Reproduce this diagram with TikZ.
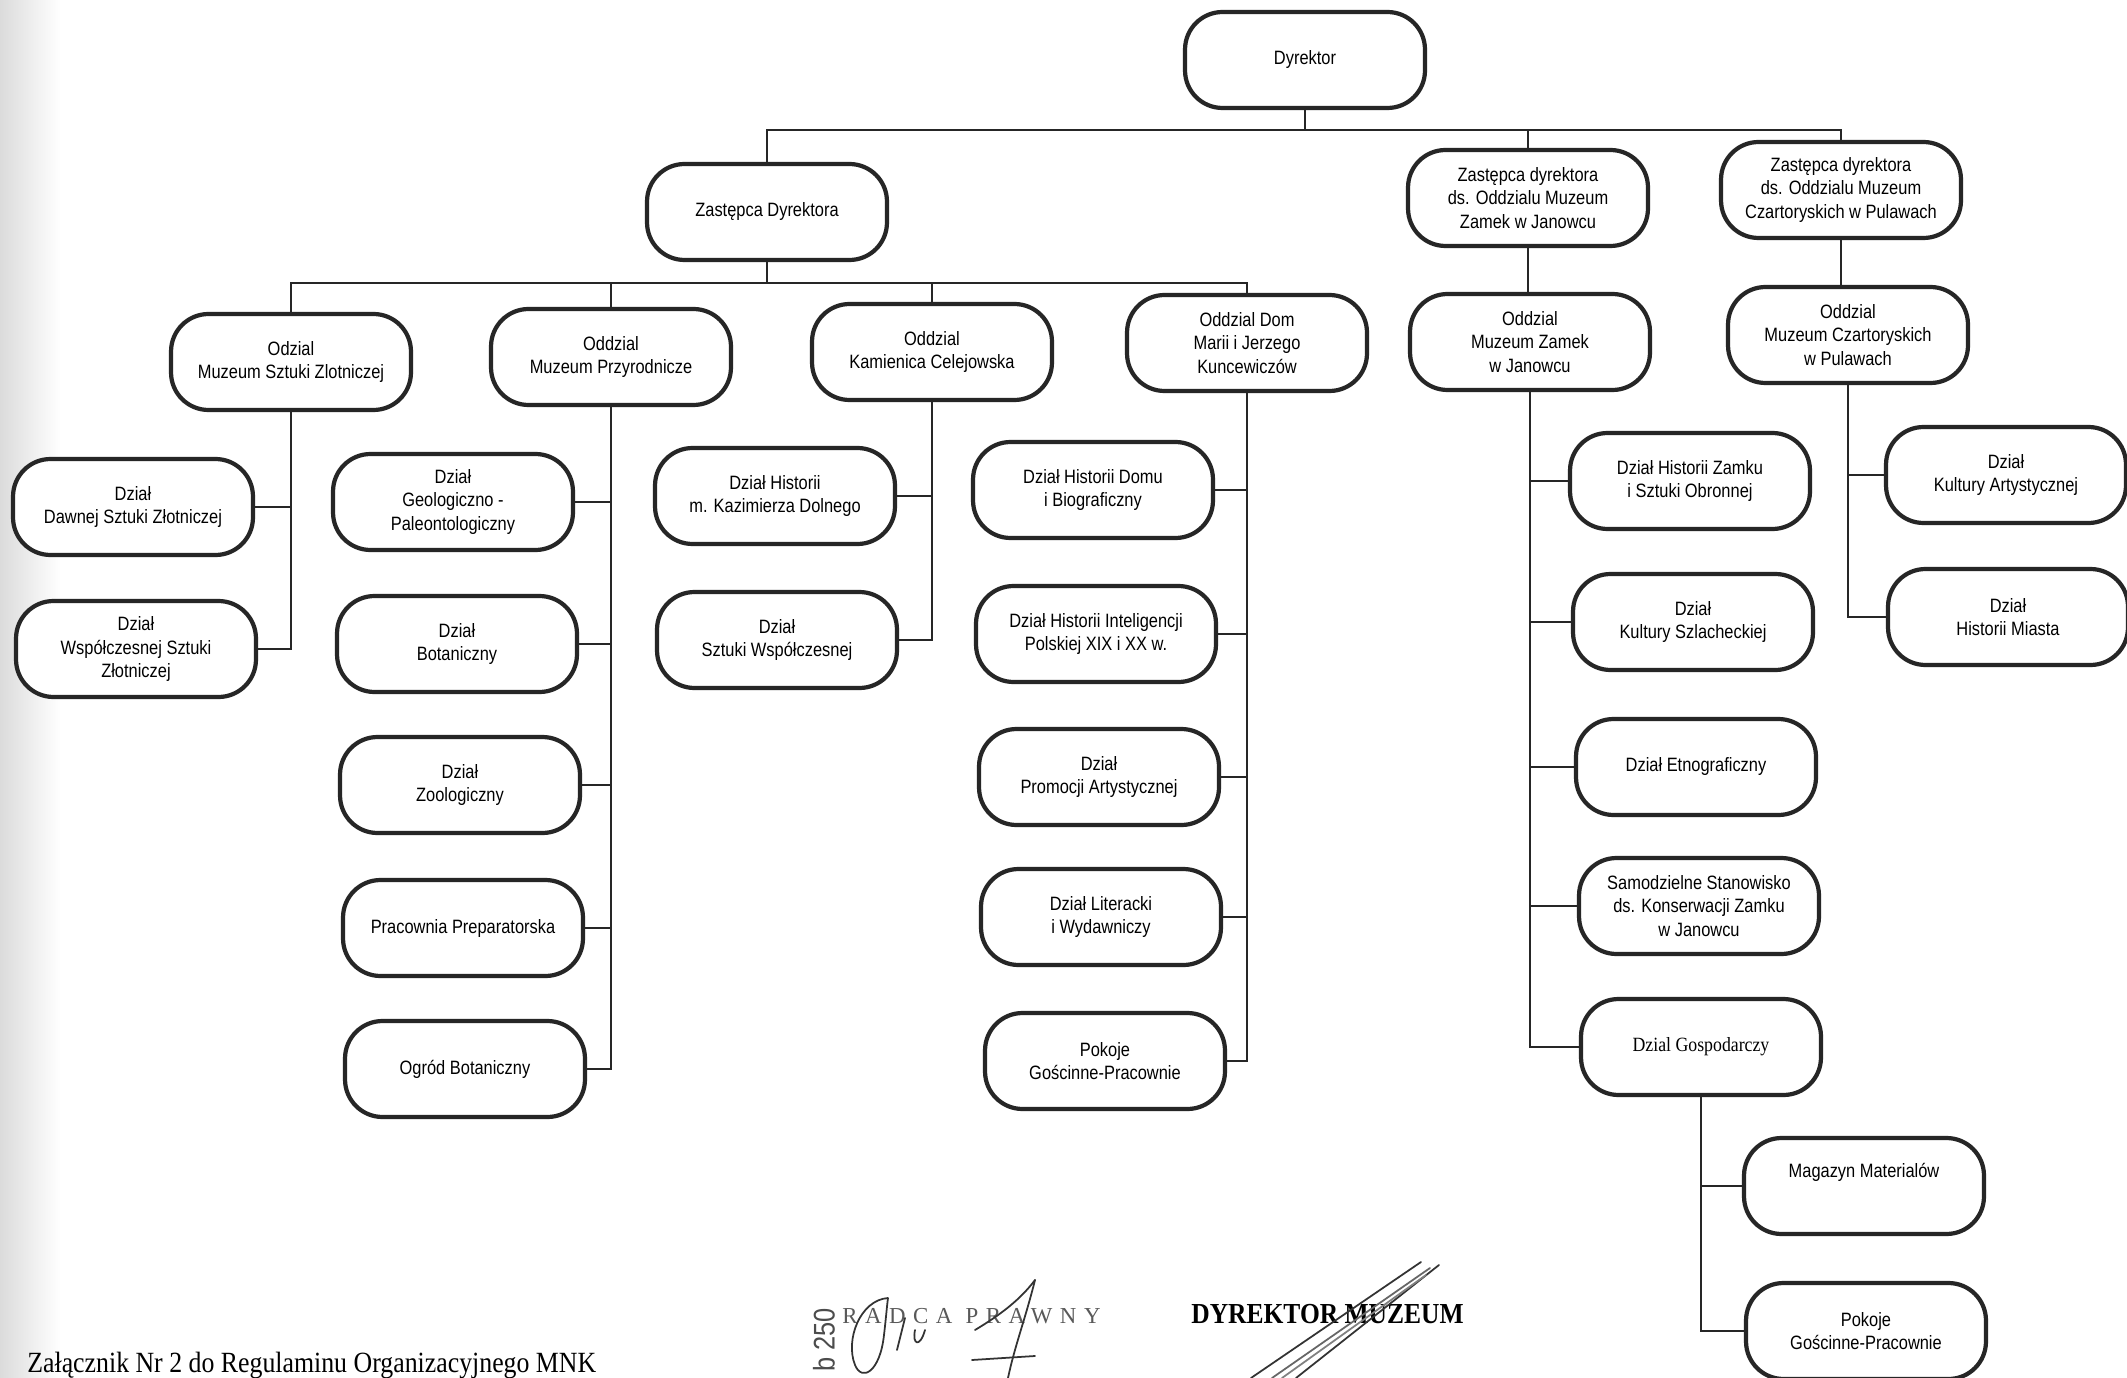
\documentclass[tikz,border=0pt]{standalone}
\usepackage{fontspec}
\newfontfamily\arialf[FakeStretch=0.85]{Liberation Sans}
\newfontfamily\timesf[FakeStretch=0.88]{Liberation Serif}
\newfontfamily\spacedf[LetterSpace=33]{Liberation Serif}
\begin{document}
\begin{tikzpicture}[x=0.02cm,y=-0.02cm,
  box/.style={draw=black!85, line width=2.4pt, rounded corners=0.75cm,
    minimum width=4.8cm, minimum height=1.92cm, align=center, inner sep=0pt,
    fill=white, font=\arialf\fontsize{11}{13.5}\selectfont},
  link/.style={draw=black!85, line width=0.9pt},
  pen/.style={draw=black!80, line width=1pt, line cap=round, line join=round}]
\useasboundingbox (0,0) rectangle (2127,1378);
\fill[white] (0,0) rectangle (2127,1378);
\fill[left color=black!14, right color=white] (0,0) rectangle (60,1378);

% level 0/1
\node[box] (dyr) at (1305,60) {Dyrektor};
\node[box] (zd) at (767,212) {Zastępca Dyrektora};
\node[box] (zj) at (1528,198) {Zastępca dyrektora\\ds. Oddzialu Muzeum\\Zamek w Janowcu};
\node[box] (zp) at (1841,190) {Zastępca dyrektora\\ds. Oddzialu Muzeum\\Czartoryskich w Pulawach};

% level 2
\node[box] (o1) at (291,362) {Odzial\\Muzeum Sztuki Zlotniczej};
\node[box] (o2) at (611,357) {Oddzial\\Muzeum Przyrodnicze};
\node[box] (o3) at (932,352) {Oddzial\\Kamienica Celejowska};
\node[box] (o4) at (1247,343) {Oddzial Dom\\Marii i Jerzego\\Kuncewiczów};
\node[box] (oj) at (1530,342) {Oddzial\\Muzeum Zamek\\w Janowcu};
\node[box] (op) at (1848,335) {Oddzial\\Muzeum Czartoryskich\\w Pulawach};

% column 1
\node[box] (c11) at (133,507) {Dział\\Dawnej Sztuki Złotniczej};
\node[box] (c12) at (136,649) {Dział\\Współczesnej Sztuki\\Złotniczej};
% column 2
\node[box] (c21) at (453,502) {Dział\\Geologiczno -\\Paleontologiczny};
\node[box] (c22) at (457,644) {Dział\\Botaniczny};
\node[box] (c23) at (460,785) {Dział\\Zoologiczny};
\node[box] (c24) at (463,928) {Pracownia Preparatorska};
\node[box] (c25) at (465,1069) {Ogród Botaniczny};
% column 3
\node[box] (c31) at (775,496) {Dział Historii\\m. Kazimierza Dolnego};
\node[box] (c32) at (777,640) {Dział\\Sztuki Współczesnej};
% column 4
\node[box] (c41) at (1093,490) {Dział Historii Domu\\i Biograficzny};
\node[box] (c42) at (1096,634) {Dział Historii Inteligencji\\Polskiej XIX i XX w.};
\node[box] (c43) at (1099,777) {Dział\\Promocji Artystycznej};
\node[box] (c44) at (1101,917) {Dział Literacki\\i Wydawniczy};
\node[box] (c45) at (1105,1061) {Pokoje\\Gościnne-Pracownie};
% column 5
\node[box] (c51) at (1690,481) {Dział Historii Zamku\\i Sztuki Obronnej};
\node[box] (c52) at (1693,622) {Dział\\Kultury Szlacheckiej};
\node[box] (c53) at (1696,767) {Dział Etnograficzny};
\node[box] (c54) at (1699,906) {Samodzielne Stanowisko\\ds. Konserwacji Zamku\\w Janowcu};
\node[box, font=\timesf\fontsize{11.5}{13.5}\selectfont] (c55) at (1701,1047) {Dzial Gospodarczy};
\node[box] (c61) at (1864,1186) {Magazyn Materialów\\[4pt]\mbox{}};
\node[box] (c62) at (1866,1331) {Pokoje\\Gościnne-Pracownie};
% column 6
\node[box] (c71) at (2006,475) {Dział\\Kultury Artystycznej};
\node[box] (c72) at (2008,617) {Dział\\Historii Miasta};

% connectors
\coordinate (b1) at (1305,130);
\draw[link] (dyr.south) -- (b1);
\draw[link] (zd.north) |- (b1);
\draw[link] (zj.north) |- (b1);
\draw[link] (zp.north) |- (b1);
\coordinate (b2) at (767,283);
\draw[link] (zd.south) -- (b2);
\foreach \o in {o1,o2,o3,o4} \draw[link] (\o.north) |- (b2);
\draw[link] (zj.south) -- (zj.south |- oj.north);
\draw[link] (zp.south) -- (zp.south |- op.north);
\foreach \c in {c11,c12} \draw[link] (o1.south) |- (\c.east);
\foreach \c in {c21,c22,c23,c24,c25} \draw[link] (o2.south) |- (\c.east);
\foreach \c in {c31,c32} \draw[link] (o3.south) |- (\c.east);
\foreach \c in {c41,c42,c43,c44,c45} \draw[link] (o4.south) |- (\c.east);
\foreach \c in {c51,c52,c53,c54,c55} \draw[link] (oj.south) |- (\c.west);
\foreach \c in {c61,c62} \draw[link] (c55.south) |- (\c.west);
\foreach \c in {c71,c72} \draw[link] (op.south) |- (\c.west);

% footer texts
\node[anchor=base west, inner sep=0pt, font=\timesf\fontsize{16.7}{18}\selectfont] (att) at (27,1372) {Załącznik Nr 2 do Regulaminu Organizacyjnego MNK};
\node[rotate=90, inner sep=0pt, font=\arialf\fontsize{17}{18}\selectfont, text=black!70] (num) at (824,1340) {b 250};
\node[anchor=base west, inner sep=0pt, font=\spacedf\fontsize{13}{14}\selectfont, text=black!65] (radca) at (842,1323) {RADCA PRAWNY};
\node[anchor=base west, inner sep=0pt, font=\timesf\bfseries\fontsize{16.5}{18}\selectfont] (dm) at (1191,1323) {DYREKTOR MUZEUM};

% signatures
\draw[pen] (888,1298) .. controls (860,1300) and (845,1340) .. (855,1365) .. controls (862,1382) and (880,1372) .. (884,1335) .. controls (886,1318) and (887,1305) .. (888,1298);
\draw[pen] (905,1318) -- (897,1350);
\draw[pen] (915,1330) .. controls (912,1345) and (920,1348) .. (925,1330);
\draw[pen] (1035,1280) .. controls (1020,1300) and (1000,1315) .. (975,1330);
\draw[pen] (1035,1280) .. controls (1025,1320) and (1015,1345) .. (1008,1378);
\draw[pen] (972,1360) -- (1035,1356);
\draw[pen] (1421,1262) -- (1251,1378);
\draw[pen] (1439,1265) -- (1296,1378);
\draw[pen, draw=black!60] (1430,1268) -- (1272,1378);
\draw[pen, draw=black!50] (1426,1275) -- (1282,1378);
\end{tikzpicture}
\end{document}
